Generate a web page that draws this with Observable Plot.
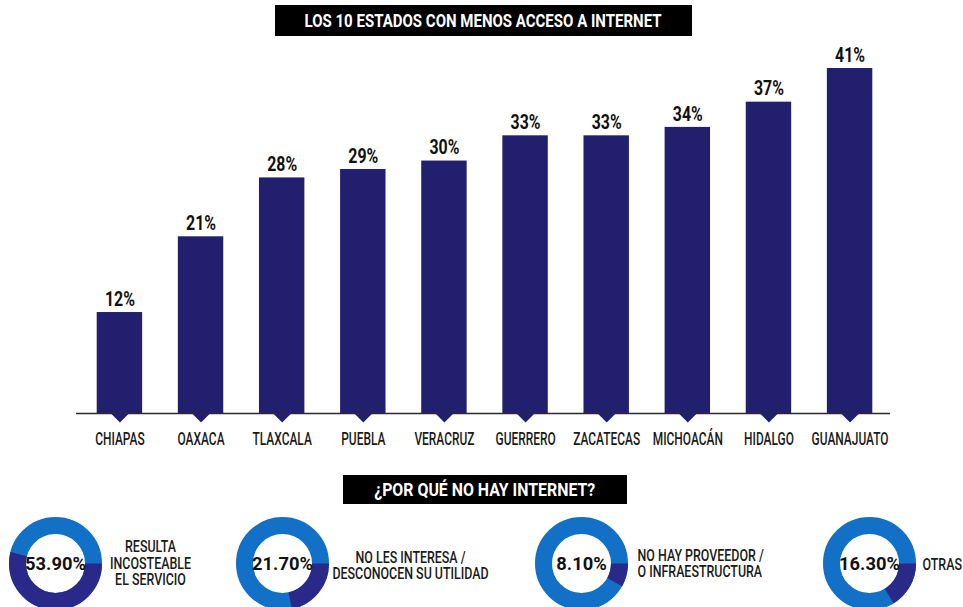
<!DOCTYPE html>
<html>
<head>
<meta charset="utf-8">
<script src="https://cdn.jsdelivr.net/npm/d3@7"></script>
<script src="https://cdn.jsdelivr.net/npm/@observablehq/plot@0.6"></script>
<style>
  html, body { margin: 0; padding: 0; background: #fff; }
  body { width: 963px; height: 607px; position: relative; overflow: hidden;
         font-family: Roboto, "Liberation Sans", Arial, sans-serif; }
  .box { position: absolute; background: #000; color: #fff; font-weight: bold;
         display: flex; align-items: center; justify-content: center; white-space: nowrap; overflow: hidden; }
  .box span { display: inline-block; transform-origin: center center; }
  #title { left: 275px; top: 5px; width: 417px; height: 31px; font-size: 18.5px; }
  #title2 { left: 343px; top: 475px; width: 284px; height: 29px; font-size: 18.5px; }
  #bars { position: absolute; left: 0; top: 40px; }
  .donut { position: absolute; }
</style>
</head>
<body>
<div id="title" class="box"><span data-w="357">LOS 10 ESTADOS CON MENOS ACCESO A INTERNET</span></div>
<div id="bars"></div>
<div id="title2" class="box"><span data-w="221">¿POR QUÉ NO HAY INTERNET?</span></div>
<div id="donuts"></div>
<script>
// ---- data ----
const estados = ["CHIAPAS", "OAXACA", "TLAXCALA", "PUEBLA", "VERACRUZ", "GUERRERO", "ZACATECAS", "MICHOACÁN", "HIDALGO", "GUANAJUATO"];
const acceso = [12, 21, 28, 29, 30, 33, 33, 34, 37, 41];
const razones = ["RESULTA\nINCOSTEABLE\nEL SERVICIO", "NO LES INTERESA /\nDESCONOCEN SU UTILIDAD", "NO HAY PROVEEDOR /\nO INFRAESTRUCTURA", "OTRAS"];
const razonPct = [53.9, 21.7, 8.1, 16.3];

const font = 'Roboto, "Liberation Sans", Arial, sans-serif';
const navy = "#231f6f";
const navy2 = "#2a298a";
const blue = "#1271c6";
const SVGNS = "http://www.w3.org/2000/svg";

// width of the widest line of a text element
function textWidth(t) {
  const spans = t.querySelectorAll("tspan");
  const els = spans.length ? Array.from(spans) : [t];
  let w = 0;
  els.forEach(e => { try { w = Math.max(w, e.getComputedTextLength()); } catch (err) {} });
  return w;
}
// horizontally squeeze texts about their anchor point
function squeeze(texts, f) {
  if (!isFinite(f) || f <= 0) return;
  texts.forEach(t => {
    const g = document.createElementNS(SVGNS, "g");
    const tr = t.getAttribute("transform");
    if (tr) g.setAttribute("transform", tr);
    t.parentNode.insertBefore(g, t);
    g.appendChild(t);
    t.removeAttribute("transform");
    const x = parseFloat(t.getAttribute("x")) || 0;
    const y = parseFloat(t.getAttribute("y")) || 0;
    t.setAttribute("transform", `translate(${x} ${y}) scale(${f.toFixed(4)} 1) translate(${-x} ${-y})`);
  });
}
function squeezeTo(root, selector, refWidth, fallback, pick) {
  const texts = Array.from(root.querySelectorAll(selector));
  if (!texts.length) return fallback;
  const ref = (pick && texts.find(pick)) || texts[0];
  const w = textWidth(ref);
  let f = refWidth / w;
  if (!isFinite(f) || f <= 0 || f > 2) f = fallback;
  squeeze(texts, f);
  return f;
}

// headings
document.querySelectorAll(".box span").forEach(s => {
  const w = s.getBoundingClientRect().width;
  let f = +s.dataset.w / w;
  if (!isFinite(f) || f <= 0) f = 0.8;
  s.style.transform = `scaleX(${f.toFixed(4)})`;
});

const rows = estados.map((e, i) => ({estado: e, v: acceso[i]}));

const downTri = {
  draw(ctx) {
    ctx.moveTo(-9, 0); ctx.lineTo(9, 0); ctx.lineTo(0, 9); ctx.closePath();
  }
};

const bars = Plot.plot({
  width: 963, height: 420,
  marginLeft: 61, marginRight: 55, marginTop: 28, marginBottom: 47,
  style: {fontFamily: font, background: "transparent", overflow: "visible"},
  x: {domain: estados, padding: 0.44, round: false, axis: null},
  y: {domain: [0, d3.max(acceso)], axis: null},
  marks: [
    Plot.barY(rows, {x: "estado", y: "v", fill: navy}),
    Plot.ruleY([0], {stroke: "#2b2b2b", strokeWidth: 1.5, insetLeft: 15, insetRight: 18}),
    Plot.dot(rows, {x: "estado", y: () => 0, symbol: downTri, r: 4, fill: navy, stroke: "none"}),
    Plot.text(rows, {x: "estado", y: "v", text: d => d.v + "%", dy: -13, fontSize: 19.5, fontWeight: "bold", fill: "#111", className: "vals"}),
    Plot.axisX({tickSize: 0, tickPadding: 19, fontSize: 17.5, fontWeight: 500, fill: "#1a1a1a", label: null})
  ]
});
document.getElementById("bars").appendChild(bars);
squeezeTo(bars, ".vals text", 30, 0.8, t => t.textContent === "41%");
squeezeTo(bars, 'g[aria-label="x-axis tick label"] text', 77, 0.68, t => t.textContent === "GUANAJUATO");

// donuts
const centersX = [55, 282, 581, 869];
const labelOpts = [
  {dx: 95, dy: 0, anchor: "middle"},
  {dx: 128, dy: 2, anchor: "middle"},
  {dx: 56, dy: 0, anchor: "start"},
  {dx: 53, dy: 1, anchor: "start"}
];
const R = 38, SW = 17;
const C = 2 * Math.PI * R;
const host = document.getElementById("donuts");
let pctF = null, lblF = null;
razonPct.forEach((p, i) => {
  const d = Plot.plot({
    width: 260, height: 102,
    marginLeft: 50, marginRight: 0, marginTop: 0, marginBottom: 0,
    style: {fontFamily: font, background: "transparent", overflow: "visible"},
    marks: [
      Plot.dot([p], {frameAnchor: "left", r: R, fill: "#fff", stroke: blue, strokeWidth: SW}),
      Plot.dot([p], {frameAnchor: "left", r: R, fill: "none", stroke: navy2, strokeWidth: SW,
        strokeDasharray: `${((p / 100) * C).toFixed(2)} ${C.toFixed(2)}`}),
      Plot.text([p], {frameAnchor: "left", text: v => v.toFixed(2) + "%", textAnchor: "middle", fontSize: 19, fontWeight: "bold", fill: "#111", className: "pct"}),
      Plot.text([razones[i]], {frameAnchor: "left", text: t => t, dx: labelOpts[i].dx, dy: labelOpts[i].dy,
        textAnchor: labelOpts[i].anchor, lineAnchor: "middle", lineHeight: 1.0, fontSize: 16.5, fontWeight: 500, fill: "#1a1a1a", className: "lbl"})
    ]
  });
  d.classList.add("donut");
  d.style.left = (centersX[i] - 50) + "px";
  d.style.top = "512px";
  host.appendChild(d);
  const pctT = Array.from(d.querySelectorAll(".pct text"));
  const lblT = Array.from(d.querySelectorAll(".lbl text"));
  if (pctF === null) { pctF = 61 / textWidth(pctT[0]); if (!isFinite(pctF) || pctF <= 0 || pctF > 2) pctF = 0.85; }
  if (lblF === null) { lblF = 81 / textWidth(lblT[0]); if (!isFinite(lblF) || lblF <= 0 || lblF > 2) lblF = 0.7; }
  squeeze(pctT, pctF);
  squeeze(lblT, lblF);
});
</script>
</body>
</html>
